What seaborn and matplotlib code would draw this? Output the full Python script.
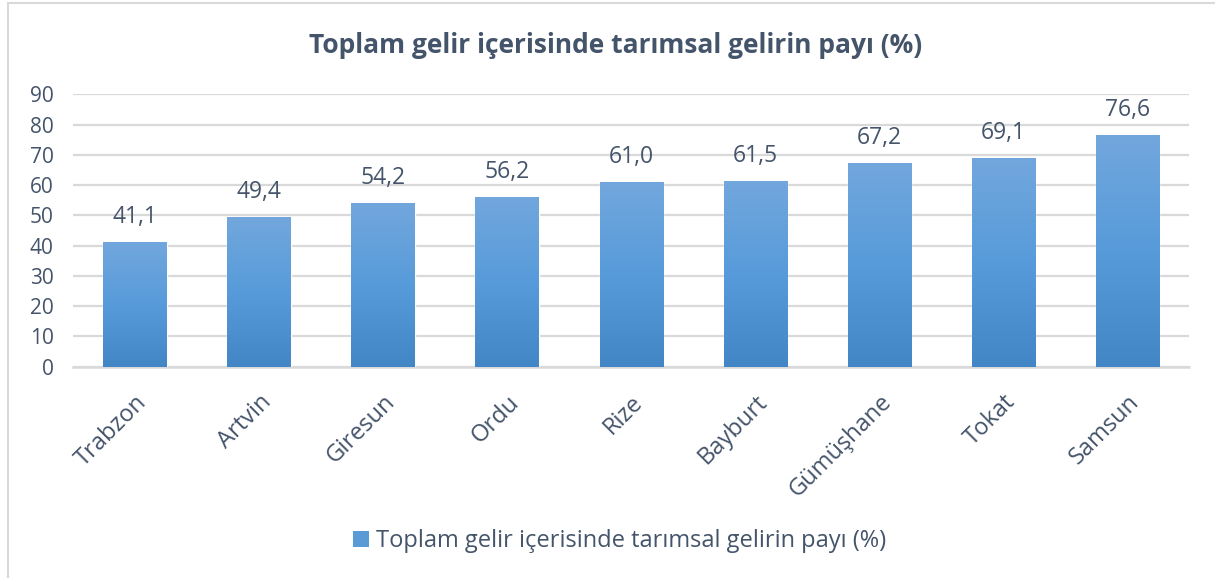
import numpy as np
import matplotlib
matplotlib.use("Agg")
import matplotlib.pyplot as plt
import matplotlib.patches as patches
from matplotlib.colors import LinearSegmentedColormap
import seaborn as sns

# data
provinces = ["Trabzon", "Artvin", "Giresun", "Ordu", "Rize", "Bayburt",
             "Gümüşhane", "Tokat", "Samsun"]
shares = [41.1, 49.4, 54.2, 56.2, 61.0, 61.5, 67.2, 69.1, 76.6]
title = "Toplam gelir içerisinde tarımsal gelirin payı (%)"
y_ticks = list(range(0, 100, 10))

TEXT = "#44546A"
GRID = "#D9D9D9"

sns.set_theme(style="white")
plt.rcParams["font.family"] = ["Open Sans", "DejaVu Sans"]

fig = plt.figure(figsize=(12.15, 5.78), dpi=100)
ax = fig.add_axes([0.060, 0.3656, 0.919, 0.4713])

sns.barplot(x=provinces, y=shares, color="#5B9BD5", width=0.51,
            saturation=1, ax=ax, zorder=3)

# gradient fill per bar (light at top, darker at bottom)
grad = LinearSegmentedColormap.from_list(
    "bar", ["#4386C6", "#579BDA", "#72A7DD"])
ramp = np.linspace(0, 1, 256).reshape(-1, 1)
for p in ax.patches:
    x0, y0 = p.get_x(), p.get_y()
    w, h = p.get_width(), p.get_height()
    im = ax.imshow(ramp, cmap=grad, aspect="auto", origin="lower",
                   extent=[x0, x0 + w, y0, y0 + h], zorder=4)
    im.set_clip_path(p)

ax.set_xlim(-0.5, len(provinces) - 0.5)
ax.set_ylim(0, 90)
ax.set_yticks(y_ticks)
ax.yaxis.grid(True, color=GRID, lw=1.6, zorder=0)
ax.set_axisbelow(True)
for s in ["top", "right", "left"]:
    ax.spines[s].set_visible(False)
ax.spines["bottom"].set_color(GRID)
ax.spines["bottom"].set_linewidth(1.8)

ax.tick_params(axis="y", length=0, colors=TEXT, labelsize=15, pad=14)
ax.tick_params(axis="x", length=0, colors=TEXT, labelsize=17, pad=17)
for lab in ax.get_xticklabels():
    lab.set_rotation(45)
    lab.set_ha("right")
    lab.set_rotation_mode("anchor")

for i, v in enumerate(shares):
    ax.text(i, v + 4.3, f"{v:.1f}".replace(".", ","), ha="center",
            va="bottom", fontsize=16.5, color=TEXT)

fig.text(0.507, 0.922, title, ha="center", va="center", fontsize=19,
         fontweight="bold", color=TEXT)

handle = patches.Patch(facecolor="#5B9BD5", edgecolor="none")
fig.legend([handle], [title], loc="center", bbox_to_anchor=(0.510, 0.064),
           frameon=False, fontsize=17, labelcolor=TEXT, handlelength=0.65,
           handleheight=0.65, handletextpad=0.3)

# chart border like the office frame
fig.add_artist(patches.Rectangle((8 / 1215, -0.05), 1.2, 1.05 - 3 / 578,
                                 transform=fig.transFigure, fill=False,
                                 edgecolor=GRID, lw=1.5))

fig.savefig("out.png", dpi=100)
